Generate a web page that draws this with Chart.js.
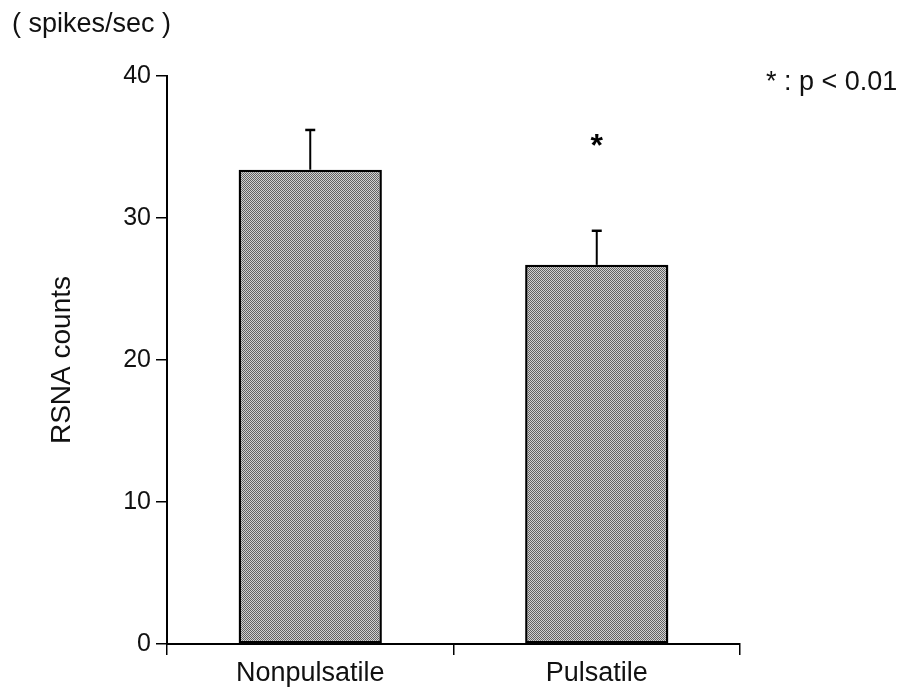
<!DOCTYPE html>
<html>
<head>
<meta charset="utf-8">
<title>RSNA counts</title>
<script src="https://cdn.jsdelivr.net/npm/chart.js@4/dist/chart.umd.min.js"></script>
<style>
    html, body { margin: 0; padding: 0; background: #fff; }
    #wrap { width: 905px; height: 688px; position: relative; }
</style>
</head>
<body>
<div id="wrap"><canvas id="rsnaChart"></canvas></div>
<script>
// Data
const categories = ['Nonpulsatile', 'Pulsatile'];
const meanValues = [33.4, 26.7];
const errValues = [2.8, 2.4];
const starMarks = ['', '*'];
const starLevels = [null, 35.7];
const yTicks = [0, 10, 20, 30, 40];

const FONT = '"Liberation Sans", Arial, Helvetica, sans-serif';

// checkerboard fill like the printed screen tone
function makeTone() {
    const c = document.createElement('canvas');
    c.width = 2;
    c.height = 2;
    const g = c.getContext('2d');
    g.fillStyle = '#d2d2d2';
    g.fillRect(0, 0, 2, 2);
    g.fillStyle = '#626262';
    g.fillRect(0, 0, 1, 1);
    g.fillRect(1, 1, 1, 1);
    return g.createPattern(c, 'repeat');
}

// error bars, asterisk and loose text
const annotate = {
    id: 'annotate',
    afterDatasetsDraw(chart) {
        const ctx = chart.ctx;
        const y = chart.scales.y;
        const meta = chart.getDatasetMeta(0);
        ctx.save();
        ctx.strokeStyle = '#000';
        meta.data.forEach((bar, i) => {
            const top = y.getPixelForValue(meanValues[i] + errValues[i]);
            ctx.lineWidth = 2;
            ctx.beginPath();
            ctx.moveTo(bar.x, bar.y);
            ctx.lineTo(bar.x, top);
            ctx.stroke();
            ctx.lineWidth = 2.5;
            ctx.beginPath();
            ctx.moveTo(bar.x - 5, top);
            ctx.lineTo(bar.x + 5, top);
            ctx.stroke();
            if (starMarks[i]) {
                ctx.fillStyle = '#000';
                ctx.font = 'bold 32px ' + FONT;
                ctx.textAlign = 'center';
                ctx.textBaseline = 'alphabetic';
                ctx.fillText(starMarks[i], bar.x, y.getPixelForValue(starLevels[i]) + 19);
            }
        });

        ctx.fillStyle = '#111';
        ctx.textBaseline = 'middle';
        ctx.font = '27px ' + FONT;
        ctx.textAlign = 'left';
        ctx.fillText('( spikes/sec )', 12, 25);
        ctx.fillText('* : p < 0.01', 766, 83);

        // y axis title
        ctx.save();
        ctx.translate(62, (chart.chartArea.top + chart.chartArea.bottom) / 2);
        ctx.rotate(-Math.PI / 2);
        ctx.textAlign = 'center';
        ctx.font = '28px ' + FONT;
        ctx.fillText('RSNA counts', 0, 0);
        ctx.restore();
        ctx.restore();
    }
};

const chartCtx = document.getElementById('rsnaChart').getContext('2d');
new Chart(chartCtx, {
    type: 'bar',
    data: {
        labels: categories,
        datasets: [{
            data: meanValues,
            backgroundColor: makeTone(),
            borderColor: '#000',
            borderWidth: 2.5,
            borderSkipped: false,
            barPercentage: 0.5,
            categoryPercentage: 1.0
        }]
    },
    options: {
        responsive: true,
        maintainAspectRatio: false,
        animation: false,
        layout: { padding: { top: 76, right: 165, left: 0, bottom: 0 } },
        plugins: {
            legend: { display: false },
            tooltip: { enabled: false }
        },
        scales: {
            x: {
                offset: true,
                afterFit(scale) { scale.height = 44; },
                border: { color: '#000', width: 2 },
                grid: {
                    offset: true,
                    drawOnChartArea: false,
                    drawTicks: true,
                    tickLength: 11,
                    color: '#000',
                    lineWidth: 1.5
                },
                ticks: {
                    color: '#111',
                    padding: 2,
                    font: { family: FONT, size: 27 }
                }
            },
            y: {
                min: 0,
                max: 40,
                afterFit(scale) { scale.width = 167; },
                afterBuildTicks(scale) { scale.ticks = yTicks.map(v => ({ value: v })); },
                border: { color: '#000', width: 2 },
                grid: {
                    drawOnChartArea: false,
                    drawTicks: true,
                    tickLength: 11,
                    color: '#000',
                    lineWidth: 1.5
                },
                ticks: {
                    color: '#111',
                    padding: 5,
                    font: { family: FONT, size: 25 }
                }
            }
        }
    },
    plugins: [annotate]
});
</script>
</body>
</html>
